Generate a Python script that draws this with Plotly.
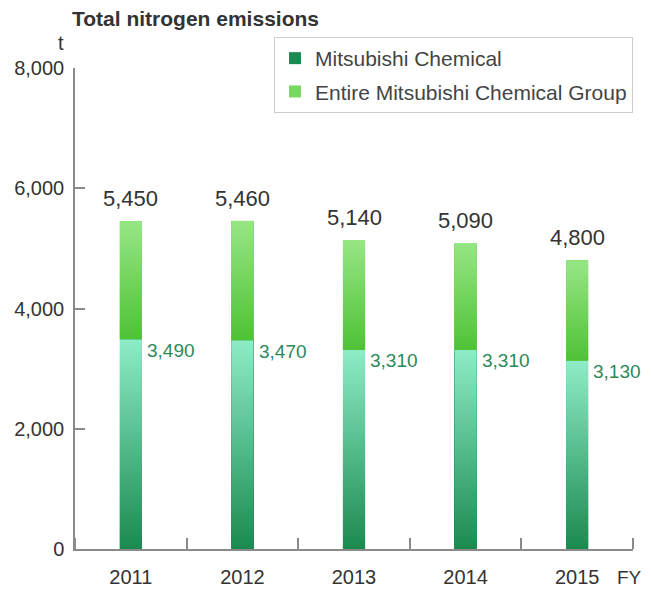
import plotly.graph_objects as go

YEARS = ["2011", "2012", "2013", "2014", "2015"]
MC = [3490, 3470, 3310, 3310, 3130]          # Mitsubishi Chemical
GROUP_TOTAL = [5450, 5460, 5140, 5090, 4800]  # Entire Mitsubishi Chemical Group
Y_TICKS = [0, 2000, 4000, 6000, 8000]

BAR_W = 0.2
FONT = "Liberation Sans, Arial, sans-serif"

DARK = "#1b8a50"
MINT = "#8eecc6"
LGREEN_TOP = "#97e685"
LGREEN_BOT = "#4fc236"

# page body has an 8px margin, so the figure is drawn 8px in from the window edge
W, H = 643, 582

fig = go.Figure()
xs = list(range(len(YEARS)))
group_part = [t - m for t, m in zip(GROUP_TOTAL, MC)]

# Base bars (carry legend)
fig.add_trace(go.Bar(x=xs, y=MC, width=BAR_W, marker=dict(color=DARK, line_width=0),
                     name="Mitsubishi Chemical", legendgroup="mc"))
fig.add_trace(go.Bar(x=xs, y=group_part, width=BAR_W, marker=dict(color="#78d860", line_width=0),
                     name="Entire Mitsubishi Chemical Group", legendgroup="grp"))

# Gradient overlays derived from the same data
for i, (m, t) in enumerate(zip(MC, GROUP_TOTAL)):
    x0, x1 = i - BAR_W / 2, i + BAR_W / 2
    fig.add_trace(go.Scatter(
        x=[x0, x1, x1, x0, x0], y=[0, 0, m, m, 0], mode="none", fill="toself",
        fillgradient=dict(type="vertical", colorscale=[[0, DARK], [1, MINT]]),
        showlegend=False, hoverinfo="skip"))
    fig.add_trace(go.Scatter(
        x=[x0, x1, x1, x0, x0], y=[m, m, t, t, m], mode="none", fill="toself",
        fillgradient=dict(type="vertical", colorscale=[[0, LGREEN_BOT], [1, LGREEN_TOP]]),
        showlegend=False, hoverinfo="skip"))

# Value labels
for i, (m, t) in enumerate(zip(MC, GROUP_TOTAL)):
    fig.add_annotation(x=i, y=t, text=f"{t:,}", showarrow=False, yanchor="bottom", yshift=8,
                       font=dict(size=22, color="#333333", family=FONT))
    fig.add_annotation(x=i + BAR_W / 2, y=m, text=f"{m:,}", showarrow=False, xanchor="left",
                       yanchor="middle", xshift=3, yshift=-11,
                       font=dict(size=19, color="#2a8a5c", family=FONT))

fig.add_annotation(xref="paper", yref="paper", x=0, y=1.0, text="t", showarrow=False,
                   xanchor="center", yanchor="bottom", yshift=12, xshift=-14,
                   font=dict(size=20, color="#333333", family=FONT))
fig.add_annotation(xref="paper", yref="paper", x=1.0, y=0, text="FY", showarrow=False,
                   xanchor="center", yanchor="top", yshift=-16, xshift=-4,
                   font=dict(size=19, color="#333333", family=FONT))

fig.update_layout(
    width=W, height=H,
    margin=dict(l=67, r=18, t=60, b=41, autoexpand=False),
    paper_bgcolor="white", plot_bgcolor="white",
    barmode="stack",
    title=dict(text="<b>Total nitrogen emissions</b>", x=64 / W, xanchor="left",
               y=1 - 11 / H, yanchor="middle",
               font=dict(size=21, color="#333333", family=FONT)),
    legend=dict(x=266 / W, y=1 - 29 / H, xref="container", yref="container",
                xanchor="left", yanchor="top", traceorder="grouped",
                bordercolor="#cccccc", borderwidth=1, bgcolor="white",
                font=dict(size=21, color="#444444", family=FONT),
                itemwidth=30, tracegroupgap=3),
    font=dict(family=FONT),
)
fig.update_xaxes(range=[-0.5, 4.5], tickmode="array", tickvals=xs, ticktext=YEARS,
                 ticks="", showline=True, linecolor="#8a8a8a", linewidth=1.5,
                 showgrid=False, zeroline=False,
                 tickfont=dict(size=20, color="#333333", family=FONT),
                 ticklabelstandoff=9,
                 minor=dict(tick0=0.5, dtick=1,
                            ticks="inside", ticklen=11, tickcolor="#8a8a8a", tickwidth=1.5,
                            showgrid=False))
fig.update_yaxes(range=[0, 8000], tickmode="array", tickvals=Y_TICKS, tickformat=",",
                 ticks="inside", ticklen=10, tickcolor="#8a8a8a", tickwidth=1.5,
                 showline=True, linecolor="#8a8a8a", linewidth=1.5,
                 showgrid=False, zeroline=False,
                 tickfont=dict(size=20, color="#333333", family=FONT),
                 ticklabelstandoff=5)

fig.write_html("out.html")
